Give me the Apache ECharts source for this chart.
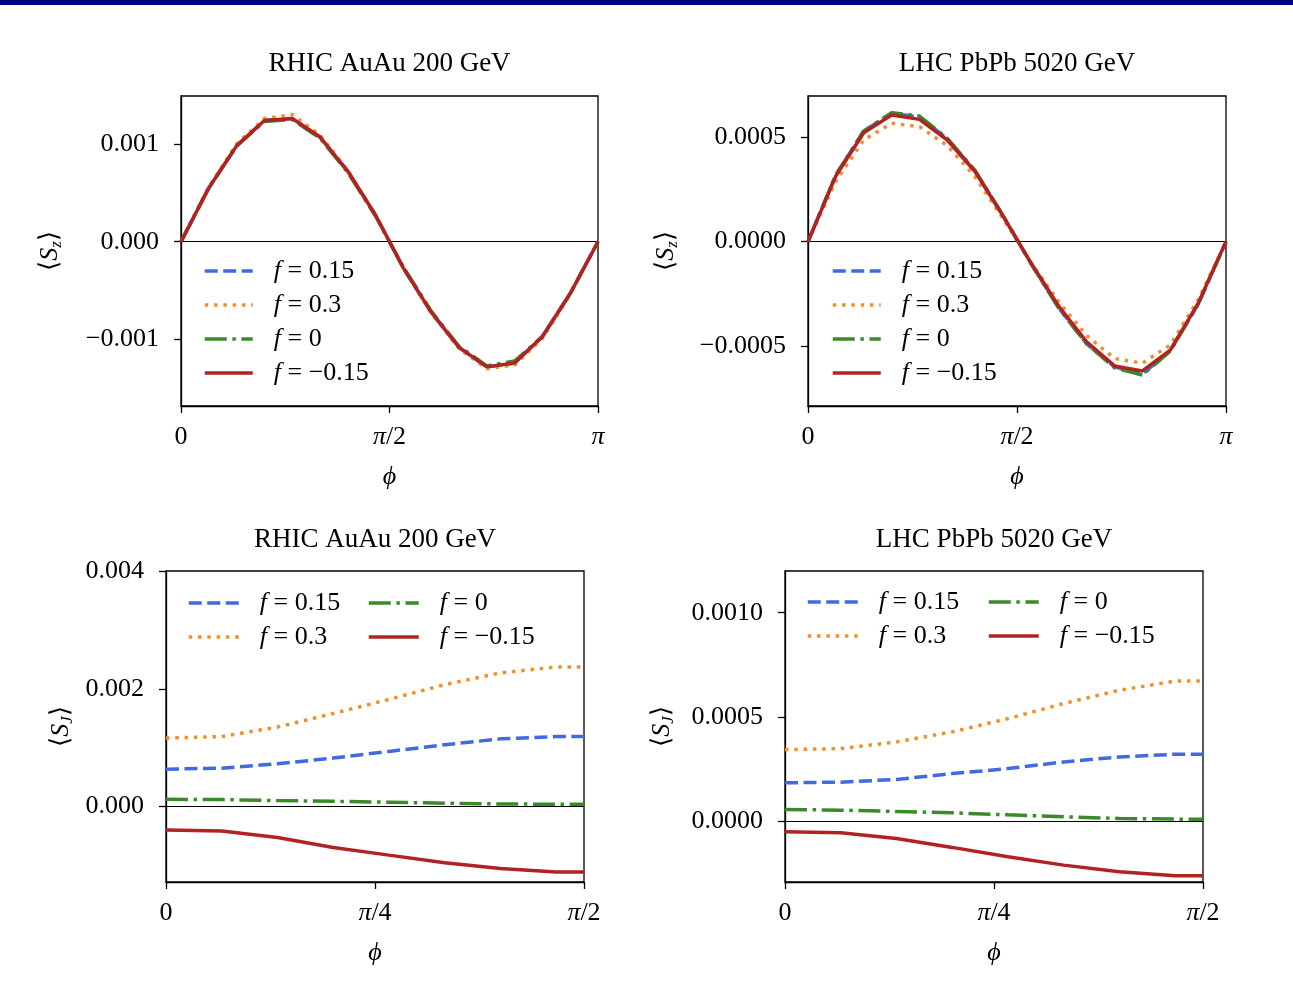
<!DOCTYPE html>
<html><head><meta charset="utf-8">
<script src="https://cdn.jsdelivr.net/npm/echarts@6/dist/echarts.min.js"></script>
<style>html,body{margin:0;padding:0;background:#fff}#c{width:1293px;height:986px}</style>
</head><body><div id="c"></div><script>
// phi sample points, in units of pi
const phiTop = [0, 1/15, 2/15, 3/15, 4/15, 5/15, 6/15, 7/15, 8/15, 9/15, 10/15, 11/15, 12/15, 13/15, 14/15, 1];
const phiBot = [0, 1/15, 2/15, 3/15, 4/15, 5/15, 6/15, 7/15, 0.5];

// RHIC AuAu 200 GeV, <S_z>
const rhicSz_f015 = [0, 0.00055, 0.00098, 0.00124, 0.00126, 0.00107, 0.00072, 0.00027, -0.00027, -0.00072, -0.00108, -0.00128, -0.00124, -0.00097, -0.00053, 0];
const rhicSz_f03  = [0, 0.00056, 0.00100, 0.00126, 0.00130, 0.00109, 0.00073, 0.00027, -0.00027, -0.00073, -0.00109, -0.00130, -0.00126, -0.00099, -0.00054, 0];
const rhicSz_f0   = [0, 0.00055, 0.00098, 0.00123, 0.00125, 0.00106, 0.00071, 0.00026, -0.00026, -0.00071, -0.00107, -0.00127, -0.00122, -0.00097, -0.00053, 0];
const rhicSz_fm015= [0, 0.00055, 0.00098, 0.00124, 0.00126, 0.00107, 0.00072, 0.00027, -0.00027, -0.00072, -0.00108, -0.00128, -0.00124, -0.00097, -0.00053, 0];

// LHC PbPb 5020 GeV, <S_z>
const lhcSz_f015 = [0, 0.00032, 0.00053, 0.000615, 0.000598, 0.000492, 0.000338, 0.000124, -0.000104, -0.000318, -0.00049, -0.0006, -0.000635, -0.000522, -0.0003, 0];
const lhcSz_f03  = [0, 0.00029, 0.000487, 0.000567, 0.000551, 0.00046, 0.00031, 0.00011, -0.0001, -0.00029, -0.00045, -0.00056, -0.000583, -0.000495, -0.00028, 0];
const lhcSz_f0   = [0, 0.00032, 0.00053, 0.000618, 0.000602, 0.000495, 0.00034, 0.000125, -0.000105, -0.00032, -0.00049, -0.000605, -0.00064, -0.000525, -0.0003, 0];
const lhcSz_fm015= [0, 0.000315, 0.000522, 0.000607, 0.000586, 0.000487, 0.000335, 0.000122, -0.000102, -0.00031, -0.00048, -0.000596, -0.00062, -0.00052, -0.000296, 0];

// RHIC AuAu 200 GeV, <S_J>
const rhicSJ_f015 = [0.000636, 0.000653, 0.000727, 0.000824, 0.000937, 0.00105, 0.00115, 0.00119, 0.00119];
const rhicSJ_f03  = [0.001164, 0.00119, 0.00135, 0.00158, 0.00182, 0.00207, 0.00227, 0.00237, 0.00237];
const rhicSJ_f0   = [0.000125, 0.000119, 0.000102, 0.000091, 0.000074, 0.000057, 0.000045, 0.00004, 0.00004];
const rhicSJ_fm015= [-0.000398, -0.000415, -0.000523, -0.000693, -0.000824, -0.000954, -0.00105, -0.00111, -0.00111];

// LHC PbPb 5020 GeV, <S_J>
const lhcSJ_f015 = [0.000184, 0.000187, 0.0002, 0.000228, 0.000252, 0.000284, 0.000308, 0.000321, 0.000321];
const lhcSJ_f03  = [0.000343, 0.000348, 0.00038, 0.000428, 0.000492, 0.000564, 0.000628, 0.000672, 0.000672];
const lhcSJ_f0   = [0.0000559, 0.0000527, 0.0000463, 0.00004, 0.0000303, 0.0000208, 0.0000128, 0.0000096, 0.0000096];
const lhcSJ_fm015= [-0.0000511, -0.0000559, -0.000083, -0.000126, -0.000171, -0.000211, -0.000243, -0.000262, -0.000262];

const seriesNames = ['f = 0.15', 'f = 0.3', 'f = 0', 'f = \u22120.15'];
const panelTitles = ['RHIC AuAu 200 GeV', 'LHC PbPb 5020 GeV', 'RHIC AuAu 200 GeV', 'LHC PbPb 5020 GeV'];
const yTicksTL = [-0.001, 0, 0.001];
const yTicksTR = [-0.0005, 0, 0.0005];
const yTicksBL = [0, 0.002, 0.004];
const yTicksBR = [0, 0.0005, 0.001];

const FONT = 'Liberation Serif';
const colors = ['#4169e1', '#f28e2b', '#3a8a2a', '#b22222'];
const dashes = [[13, 5.5], [3.5, 5.8], [22, 5.6, 3.5, 5.6], 'solid'];

const grids = [
  {left: 181, top: 96, width: 417, height: 310},
  {left: 808, top: 96, width: 418, height: 310},
  {left: 166, top: 571, width: 418, height: 311},
  {left: 785, top: 571, width: 418, height: 311}
];
const yCfg = [
  {min: -0.00168, max: 0.00149, ticks: yTicksTL, dec: 3, name: 'z', gap: 116},
  {min: -0.000788, max: 0.000698, ticks: yTicksTR, dec: 4, name: 'z', gap: 127},
  {min: -0.00128, max: 0.004, ticks: yTicksBL, dec: 3, name: 'J', gap: 90},
  {min: -0.000292, max: 0.0012, ticks: yTicksBR, dec: 4, name: 'J', gap: 108}
];
const panelData = [
  [phiTop, [rhicSz_f015, rhicSz_f03, rhicSz_f0, rhicSz_fm015]],
  [phiTop, [lhcSz_f015, lhcSz_f03, lhcSz_f0, lhcSz_fm015]],
  [phiBot, [rhicSJ_f015, rhicSJ_f03, rhicSJ_f0, rhicSJ_fm015]],
  [phiBot, [lhcSJ_f015, lhcSJ_f03, lhcSJ_f0, lhcSJ_fm015]]
];

function piLabel(v) {
  if (Math.abs(v) < 1e-9) return '0';
  if (Math.abs(v - 0.25) < 1e-9) return '{i|\u03c0}/4';
  if (Math.abs(v - 0.5) < 1e-9) return '{i|\u03c0}/2';
  if (Math.abs(v - 1) < 1e-9) return '{i|\u03c0}';
  return '';
}
const italicRich = {i: {fontStyle: 'italic', fontFamily: FONT, fontSize: 26, color: '#000'}};

const xAxes = [], yAxes = [], series = [], titles = [];
grids.forEach((g, i) => {
  const top = i < 2;
  xAxes.push({
    type: 'value', gridIndex: i, min: 0, max: top ? 1 : 0.5, interval: top ? 0.5 : 0.25,
    axisLine: {show: true, onZero: false, lineStyle: {color: '#000', width: 1.3}},
    axisTick: {show: true, length: 7, lineStyle: {color: '#000', width: 1.3}},
    splitLine: {show: false},
    axisLabel: {formatter: piLabel, fontFamily: FONT, fontSize: 26, color: '#000', margin: 18, rich: italicRich},
    name: '\u03d5', nameLocation: 'middle', nameGap: 58,
    nameTextStyle: {fontFamily: FONT, fontSize: 26, fontStyle: 'italic', color: '#000'}
  });
  const c = yCfg[i];
  yAxes.push({
    type: 'value', gridIndex: i, min: c.min, max: c.max,
    axisLine: {show: true, onZero: false, lineStyle: {color: '#000', width: 1.3}},
    axisTick: {show: true, length: 7, customValues: c.ticks, lineStyle: {color: '#000', width: 1.3}},
    splitLine: {show: false},
    axisLabel: {customValues: c.ticks, fontFamily: FONT, fontSize: 26, color: '#000', margin: 22,
      formatter: v => v.toFixed(c.dec).replace('-', '\u2212').replace(/^\u22120\.0+$/, m => m.slice(1))},
    name: '\u27e8{s|S}{sub|' + c.name + '}\u27e9', nameLocation: 'middle', nameRotate: 90, nameGap: c.gap,
    nameTextStyle: {fontFamily: FONT, fontSize: 26, color: '#000',
      rich: {s: {fontFamily: FONT, fontSize: 26, fontStyle: 'italic', color: '#000'},
             sub: {fontFamily: FONT, fontSize: 17, fontStyle: 'italic', color: '#000', padding: [12, 0, 0, 0]}}}
  });
  titles.push({text: panelTitles[i], left: g.left + g.width / 2, top: top ? 64 : 540,
    textAlign: 'center', textVerticalAlign: 'middle', padding: 0,
    textStyle: {fontFamily: FONT, fontSize: 27, fontWeight: 'normal', color: '#000'}});
  const [phi, arrs] = panelData[i];
  arrs.forEach((vals, k) => {
    const s = {
      name: seriesNames[k], type: 'line', xAxisIndex: i, yAxisIndex: i,
      data: phi.map((p, j) => [p, vals[j]]),
      symbol: 'none', showSymbol: false, animation: false, z: 3 + k,
      lineStyle: {color: colors[k], width: 3.5, type: dashes[k], cap: 'butt'},
      itemStyle: {color: colors[k]}
    };
    if (k === 0) {
      s.markLine = {silent: true, symbol: ['none', 'none'], animation: false, label: {show: false},
        lineStyle: {color: '#000', width: 1, type: 'solid'}, data: [{yAxis: 0}]};
    }
    series.push(s);
  });
});

const legendText = {fontFamily: FONT, fontSize: 26, lineHeight: 26, color: '#000', padding: [0, 0, 0, 16], rich: italicRich};
const legendFmt = n => '{i|f}' + n.slice(1);
function mkLegend(left, top, data, w) {
  return {orient: 'vertical', left: left, top: top, itemWidth: w, itemHeight: 14, itemGap: 8,
    padding: 0, data: data, formatter: legendFmt, textStyle: legendText, selectedMode: false,
    itemStyle: {opacity: 0, borderWidth: 0}, lineStyle: {width: 3.5}};
}
const legends = [
  mkLegend(203, 258, seriesNames, 48),
  mkLegend(831, 258, seriesNames, 48),
  mkLegend(187, 590, [seriesNames[0], seriesNames[1]], 50),
  mkLegend(367, 590, [seriesNames[2], seriesNames[3]], 50),
  mkLegend(806, 589, [seriesNames[0], seriesNames[1]], 50),
  mkLegend(987, 589, [seriesNames[2], seriesNames[3]], 50)
];

const chart = echarts.init(document.getElementById('c'), null, {renderer: 'canvas'});
chart.setOption({
  backgroundColor: '#fff',
  animation: false,
  title: titles,
  legend: legends,
  grid: grids.map(g => Object.assign({show: true, borderColor: '#000', borderWidth: 1.3, containLabel: false}, g)),
  xAxis: xAxes,
  yAxis: yAxes,
  series: series,
  graphic: [{type: 'rect', left: 0, top: 0, shape: {width: 1293, height: 5}, style: {fill: '#000080'}, silent: true}]
});
</script></body></html>
